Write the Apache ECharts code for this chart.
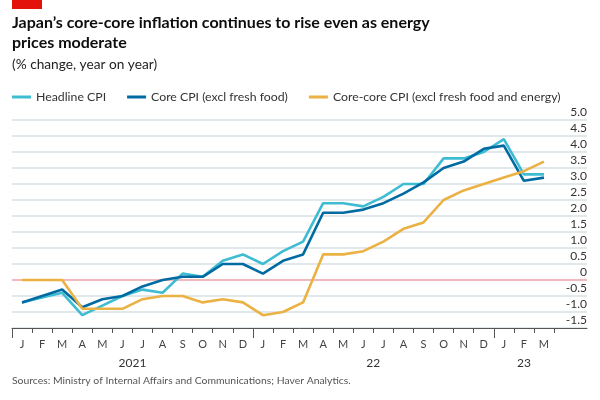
<!DOCTYPE html>
<html>
<head>
<meta charset="utf-8">
<script src="https://cdn.jsdelivr.net/npm/echarts@6/dist/echarts.min.js"></script>
<style>
html,body{margin:0;padding:0;background:#fff;}
#chart{width:600px;height:400px;}
</style>
</head>
<body>
<div id="chart"></div>
<script>
// ---- data ----
const categories = [
  '2021-01','2021-02','2021-03','2021-04','2021-05','2021-06','2021-07','2021-08','2021-09','2021-10','2021-11','2021-12',
  '2022-01','2022-02','2022-03','2022-04','2022-05','2022-06','2022-07','2022-08','2022-09','2022-10','2022-11','2022-12',
  '2023-01','2023-02','2023-03'
];
const monthLetters = ['J','F','M','A','M','J','J','A','S','O','N','D',
                      'J','F','M','A','M','J','J','A','S','O','N','D',
                      'J','F','M'];
const yearLabels = ['2021','22','23'];
const headline = [-0.7,-0.55,-0.4,-1.1,-0.8,-0.5,-0.3,-0.4,0.2,0.1,0.6,0.8,
                  0.5,0.9,1.2,2.4,2.4,2.3,2.6,3.0,3.0,3.8,3.8,4.0,
                  4.4,3.3,3.3];
const core = [-0.7,-0.5,-0.3,-0.85,-0.6,-0.5,-0.2,0.0,0.1,0.1,0.5,0.5,
              0.2,0.6,0.8,2.1,2.1,2.2,2.4,2.7,3.05,3.5,3.7,4.1,
              4.2,3.1,3.2];
const coreCore = [0.0,0.0,0.0,-0.9,-0.9,-0.9,-0.6,-0.5,-0.5,-0.7,-0.6,-0.7,
                  -1.1,-1.0,-0.7,0.8,0.8,0.9,1.2,1.6,1.8,2.5,2.8,3.0,
                  3.2,3.4,3.7];
const yMin = -1.5, yMax = 5.0, yStep = 0.5;
const seriesNames = ['Headline CPI','Core CPI (excl fresh food)','Core-core CPI (excl fresh food and energy)'];

// ---- layout ----
const FONT = 'Lato, "Noto Sans", sans-serif';
const plotLeft = 12, plotRight = 554, gridRightEdge = 587, plotTop = 120, plotBottom = 328;
const W = 600, H = 400;
const bandPx = (plotRight - plotLeft) / categories.length;

// full years (for tall ticks at year boundaries)
const yearOf = c => c.slice(0, 4);
const years = [];
categories.forEach((c, i) => {
  const y = yearOf(c);
  let g = years.find(o => o.year === y);
  if (!g) { g = {year: y, first: i, last: i}; years.push(g); }
  g.last = i;
});
const fullYearCats = categories.filter(c => years.find(o => o.year === yearOf(c) && o.last - o.first === 11));

// year label positions: centered under each year's months
const yearLabelMap = {};
years.forEach((g, k) => {
  const mid = (g.first + g.last) / 2;
  const idx = Math.floor(mid);
  yearLabelMap[idx] = {text: yearLabels[k], half: mid !== idx};
});

// y split line colours: zero line highlighted
const splitColors = [];
for (let v = yMin; v <= yMax + 1e-9; v += yStep) {
  splitColors.push(Math.abs(v) < 1e-9 ? '#eba3a6' : '#d7e0e5');
}

const chart = echarts.init(document.getElementById('chart'), null, {renderer: 'canvas'});
const gridCommon = {top: plotTop, bottom: H - plotBottom, containLabel: false};
const yHidden = (gi) => ({gridIndex: gi, type: 'value', min: yMin, max: yMax, interval: yStep, show: false});

chart.setOption({
  animation: false,
  textStyle: {fontFamily: FONT},
  graphic: [{type: 'rect', shape: {x: 12, y: 0, width: 30, height: 9}, style: {fill: '#e3120b'}}],
  title: [
    {text: 'Japan\u2019s core-core inflation continues to rise even as energy\nprices moderate',
     left: 12, top: 13, padding: 0,
     textStyle: {fontFamily: FONT, fontSize: 16, fontWeight: 'bold', lineHeight: 20, color: '#0d0d0d'}},
    {text: '(% change, year on year)', left: 12, top: 57, padding: 0,
     textStyle: {fontFamily: FONT, fontSize: 13.7, fontWeight: 'normal', color: '#222', lineHeight: 16}},
    {text: 'Sources: Ministry of Internal Affairs and Communications; Haver Analytics.', left: 12, top: 374, padding: 0,
     textStyle: {fontFamily: FONT, fontSize: 10.4, fontWeight: 'normal', color: '#555', lineHeight: 13}}
  ],
  legend: {
    data: seriesNames, left: 12, top: 89, padding: 0,
    icon: 'rect', itemWidth: 19, itemHeight: 3, itemGap: 21,
    textStyle: {fontFamily: FONT, fontSize: 12.3, color: '#333', lineHeight: 16}
  },
  grid: [
    Object.assign({left: plotLeft, right: W - gridRightEdge}, gridCommon),
    Object.assign({left: plotLeft, right: W - plotRight}, gridCommon),
    Object.assign({left: plotLeft, width: bandPx * fullYearCats.length}, gridCommon)
  ],
  xAxis: [
    {gridIndex: 0, type: 'value', min: 0, max: 1, position: 'bottom',
     axisLine: {show: true, onZero: false, lineStyle: {color: '#555', width: 1}},
     axisTick: {show: false}, axisLabel: {show: false}, splitLine: {show: false}},
    {gridIndex: 1, type: 'category', data: categories, boundaryGap: true, position: 'bottom',
     axisLine: {show: false, onZero: false},
     axisTick: {show: true, interval: 0, length: 5, lineStyle: {color: '#555', width: 1}},
     axisLabel: {interval: 0, margin: 11, fontSize: 11, color: '#444', fontFamily: FONT,
                 formatter: (v, i) => monthLetters[i]},
     splitLine: {show: false}},
    {gridIndex: 1, type: 'category', data: categories, boundaryGap: true, position: 'bottom', offset: 0,
     axisLine: {show: false, onZero: false}, axisTick: {show: false},
     axisLabel: {interval: (i) => yearLabelMap[i] !== undefined, margin: 29, fontSize: 12, color: '#333', fontFamily: FONT,
                 formatter: (v, i) => {
                   const o = yearLabelMap[i];
                   if (!o) return '';
                   return '{' + (o.half ? 'h' : 'c') + '|' + o.text + '}';
                 },
                 rich: {h: {padding: [0, 0, 0, bandPx], fontSize: 12, color: '#333', fontFamily: FONT},
                        c: {fontSize: 12, color: '#333', fontFamily: FONT}}},
     splitLine: {show: false}},
    {gridIndex: 2, type: 'category', data: fullYearCats, boundaryGap: true, position: 'bottom',
     axisLine: {show: false, onZero: false},
     axisTick: {show: true, interval: 11, length: 10, lineStyle: {color: '#555', width: 1}},
     axisLabel: {show: false}, splitLine: {show: false}}
  ],
  yAxis: [
    {gridIndex: 0, type: 'value', min: yMin, max: yMax, interval: yStep, position: 'right',
     axisLine: {show: false}, axisTick: {show: false},
     axisLabel: {inside: true, margin: 0, align: 'right', verticalAlign: 'bottom', padding: [0, 0, 1, 0],
                 fontSize: 12, color: '#333', fontFamily: FONT, lineHeight: 13,
                 formatter: v => (Math.abs(v) < 1e-9 ? '0' : v.toFixed(1))},
     splitLine: {show: true, lineStyle: {color: splitColors, width: 1.5}}},
    yHidden(1),
    yHidden(2)
  ],
  series: [
    {name: seriesNames[0], type: 'line', xAxisIndex: 1, yAxisIndex: 1, data: headline,
     symbol: 'none', lineStyle: {width: 2.6, color: '#3ebcd2'}, itemStyle: {color: '#3ebcd2'}, z: 3},
    {name: seriesNames[1], type: 'line', xAxisIndex: 1, yAxisIndex: 1, data: core,
     symbol: 'none', lineStyle: {width: 2.6, color: '#006ba2'}, itemStyle: {color: '#006ba2'}, z: 4},
    {name: seriesNames[2], type: 'line', xAxisIndex: 1, yAxisIndex: 1, data: coreCore,
     symbol: 'none', lineStyle: {width: 2.6, color: '#ebb142'}, itemStyle: {color: '#ebb142'}, z: 5}
  ]
});
</script>
</body>
</html>
